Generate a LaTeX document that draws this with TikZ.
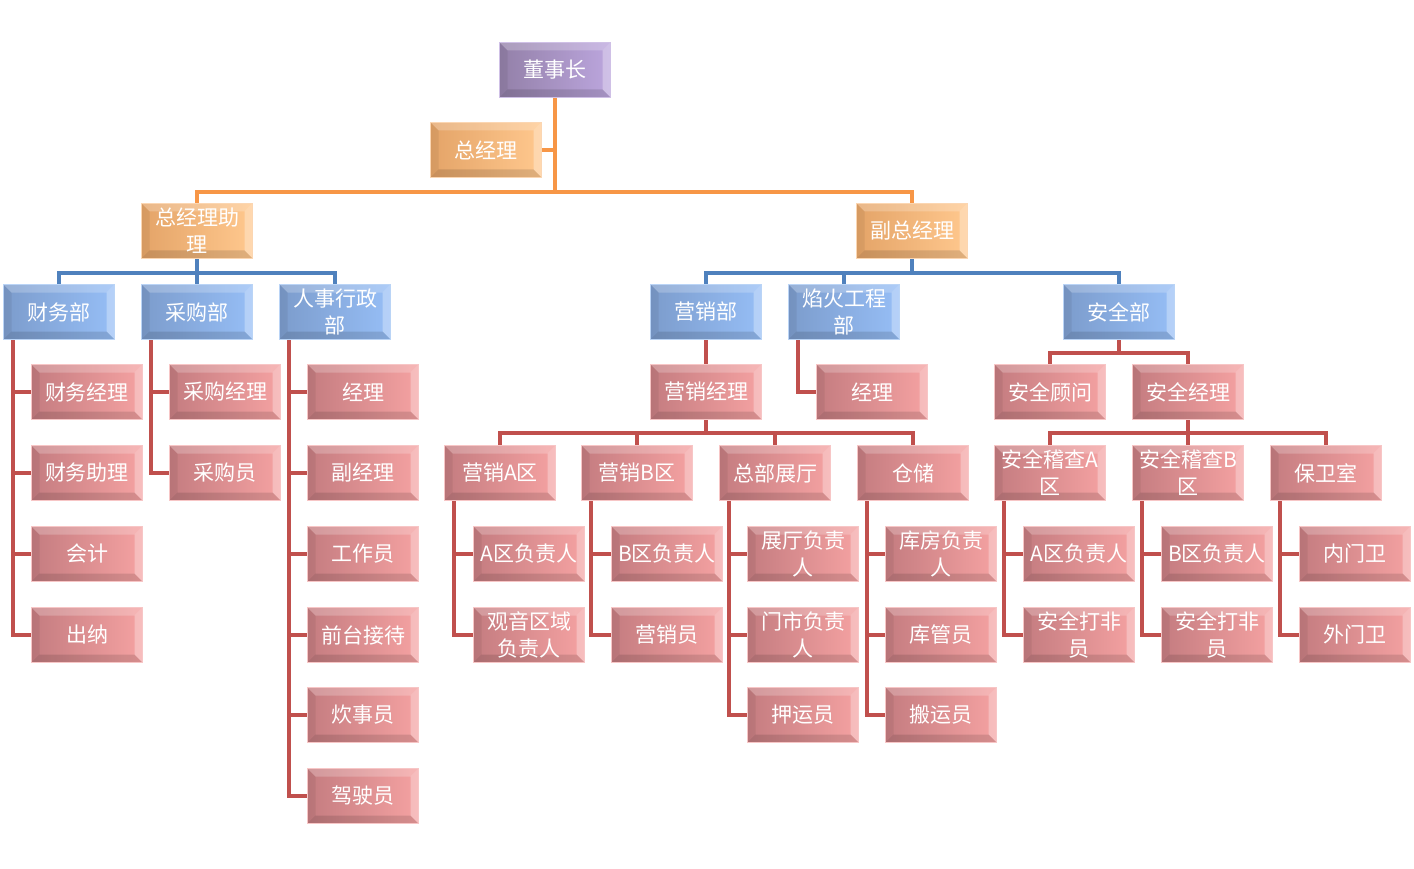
\documentclass[tikz,border=0pt]{standalone}
\usepackage{fontspec}
\newfontfamily\cjk{Noto Sans CJK SC}
\usetikzlibrary{backgrounds,calc}
\definecolor{lorange}{HTML}{F79646}
\definecolor{lblue}{HTML}{4F81BD}
\definecolor{lred}{HTML}{C0504D}
\definecolor{rL}{HTML}{C47C80}\definecolor{rR}{HTML}{F5A2A2}\definecolor{rB}{HTML}{F7C6C6}
\definecolor{bL}{HTML}{7C9CCC}\definecolor{bR}{HTML}{96BEF6}\definecolor{bB}{HTML}{BAD4F6}
\definecolor{oL}{HTML}{E4A468}\definecolor{oR}{HTML}{FFC88E}\definecolor{oB}{HTML}{FBD6B2}
\definecolor{pL}{HTML}{9380A8}\definecolor{pR}{HTML}{BCA6DE}\definecolor{pB}{HTML}{CFC0E6}
\tikzset{
  bevel/.style={path picture={
    \fill[white,opacity=0.22] (path picture bounding box.north west) -- (path picture bounding box.north east)
       -- ([shift={(-8pt,-8pt)}]path picture bounding box.north east) -- ([shift={(8pt,-8pt)}]path picture bounding box.north west) -- cycle;
    \fill[white,opacity=0.30] (path picture bounding box.north east) -- (path picture bounding box.south east)
       -- ([shift={(-8pt,8pt)}]path picture bounding box.south east) -- ([shift={(-8pt,-8pt)}]path picture bounding box.north east) -- cycle;
    \fill[black,opacity=0.12] (path picture bounding box.south west) -- (path picture bounding box.south east)
       -- ([shift={(-8pt,8pt)}]path picture bounding box.south east) -- ([shift={(8pt,8pt)}]path picture bounding box.south west) -- cycle;
    \fill[black,opacity=0.06] (path picture bounding box.north west) -- (path picture bounding box.south west)
       -- ([shift={(8pt,8pt)}]path picture bounding box.south west) -- ([shift={(8pt,-8pt)}]path picture bounding box.north west) -- cycle;
  }},
  boxbase/.style={rectangle, minimum width=111pt, minimum height=55pt, inner sep=0pt, align=center,
    text=white, font=\cjk\fontsize{21}{27}\selectfont, line width=1.8pt, bevel},
  rbox/.style={boxbase, left color=rL, right color=rR, draw=rB},
  bbox/.style={boxbase, left color=bL, right color=bR, draw=bB},
  obox/.style={boxbase, left color=oL, right color=oR, draw=oB},
  pbox/.style={boxbase, left color=pL, right color=pR, draw=pB},
  oline/.style={draw=lorange, line width=4pt},
  bline/.style={draw=lblue, line width=4pt},
  rline/.style={draw=lred, line width=4pt},
}
\begin{document}
\begin{tikzpicture}[x=1pt,y=-1pt]
\useasboundingbox (0,0) rectangle (1414,869);
% top
\node[pbox] (dsz) at (555,70) {董事长};
\node[obox] (zjl) at (486,150) {总经理};
\node[obox] (zl) at (197,231) {总经理助\\理};
\node[obox] (fz) at (912,231) {副总经理};
% blue
\node[bbox] (cwb) at (59,312) {财务部};
\node[bbox] (cgb) at (197,312) {采购部};
\node[bbox] (rsb) at (335,312) {人事行政\\部};
\node[bbox] (yxb) at (706,312) {营销部};
\node[bbox] (yhb) at (844,312) {焰火工程\\部};
\node[bbox] (aqb) at (1119,312) {安全部};
% left red
\node[rbox] (cw1) at (87,392) {财务经理};
\node[rbox] (cw2) at (87,473) {财务助理};
\node[rbox] (cw3) at (87,554) {会计};
\node[rbox] (cw4) at (87,635) {出纳};
\node[rbox] (cg1) at (225,392) {采购经理};
\node[rbox] (cg2) at (225,473) {采购员};
\node[rbox] (rs1) at (363,392) {经理};
\node[rbox] (rs2) at (363,473) {副经理};
\node[rbox] (rs3) at (363,554) {工作员};
\node[rbox] (rs4) at (363,635) {前台接待};
\node[rbox] (rs5) at (363,715) {炊事员};
\node[rbox] (rs6) at (363,796) {驾驶员};
% right red
\node[rbox] (yxjl) at (706,392) {营销经理};
\node[rbox] (yh1) at (872,392) {经理};
\node[rbox] (aqgw) at (1050,392) {安全顾问};
\node[rbox] (aqjl) at (1188,392) {安全经理};
\node[rbox] (ya) at (500,473) {营销A区};
\node[rbox] (yb) at (637,473) {营销B区};
\node[rbox] (zt) at (775,473) {总部展厅};
\node[rbox] (cc) at (913,473) {仓储};
\node[rbox] (aqa) at (1050,473) {安全稽查A\\区};
\node[rbox] (aqbb) at (1188,473) {安全稽查B\\区};
\node[rbox] (bws) at (1326,473) {保卫室};
\node[rbox] (ya1) at (529,554) {A区负责人};
\node[rbox] (ya2) at (529,635) {观音区域\\负责人};
\node[rbox] (yb1) at (667,554) {B区负责人};
\node[rbox] (yb2) at (667,635) {营销员};
\node[rbox] (zt1) at (803,554) {展厅负责\\人};
\node[rbox] (zt2) at (803,635) {门市负责\\人};
\node[rbox] (zt3) at (803,715) {押运员};
\node[rbox] (cc1) at (941,554) {库房负责\\人};
\node[rbox] (cc2) at (941,635) {库管员};
\node[rbox] (cc3) at (941,715) {搬运员};
\node[rbox] (aa1) at (1079,554) {A区负责人};
\node[rbox] (aa2) at (1079,635) {安全打非\\员};
\node[rbox] (ab1) at (1217,554) {B区负责人};
\node[rbox] (ab2) at (1217,635) {安全打非\\员};
\node[rbox] (bw1) at (1355,554) {内门卫};
\node[rbox] (bw2) at (1355,635) {外门卫};

\begin{pgfonlayer}{background}
% orange
\coordinate (jo) at (555,192);
\draw[oline] (dsz.south) -- (jo);
\draw[oline] (zjl.east) -- (zjl.east -| dsz.south);
\draw[oline] (jo) -| (zl.north);
\draw[oline] (jo) -| (fz.north);
% blue
\coordinate (jb1) at (197,273);
\draw[bline] (zl.south) -- (jb1);
\draw[bline] (jb1) -| (cwb.north);
\draw[bline] (jb1) -- (cgb.north);
\draw[bline] (jb1) -| (rsb.north);
\coordinate (jb2) at (912,273);
\draw[bline] (fz.south) -- (jb2);
\draw[bline] (jb2) -| (yxb.north);
\draw[bline] (jb2) -| (yhb.north);
\draw[bline] (jb2) -| (aqb.north);
% red side connectors
\foreach \p/\kids in {cwb/{cw1,cw2,cw3,cw4}, cgb/{cg1,cg2}, rsb/{rs1,rs2,rs3,rs4,rs5,rs6},
    yhb/{yh1}, ya/{ya1,ya2}, yb/{yb1,yb2}, zt/{zt1,zt2,zt3}, cc/{cc1,cc2,cc3},
    aqa/{aa1,aa2}, aqbb/{ab1,ab2}, bws/{bw1,bw2}}{
  \foreach \k in \kids {
    \draw[rline] ([xshift=10pt]\p.south west) |- (\k.west);
  }
}
% red tree connectors
\draw[rline] (yxb.south) -- (yxjl.north);
\coordinate (jr1) at (706,433);
\draw[rline] (yxjl.south) -- (jr1);
\draw[rline] (jr1) -| (ya.north);
\draw[rline] (jr1) -| (yb.north);
\draw[rline] (jr1) -| (zt.north);
\draw[rline] (jr1) -| (cc.north);
\coordinate (jr2) at (1119,353);
\draw[rline] (aqb.south) -- (jr2);
\draw[rline] (jr2) -| (aqgw.north);
\draw[rline] (jr2) -| (aqjl.north);
\coordinate (jr3) at (1188,433);
\draw[rline] (aqjl.south) -- (jr3);
\draw[rline] (jr3) -| (aqa.north);
\draw[rline] (jr3) -- (aqbb.north);
\draw[rline] (jr3) -| (bws.north);
\end{pgfonlayer}
\end{tikzpicture}
\end{document}
